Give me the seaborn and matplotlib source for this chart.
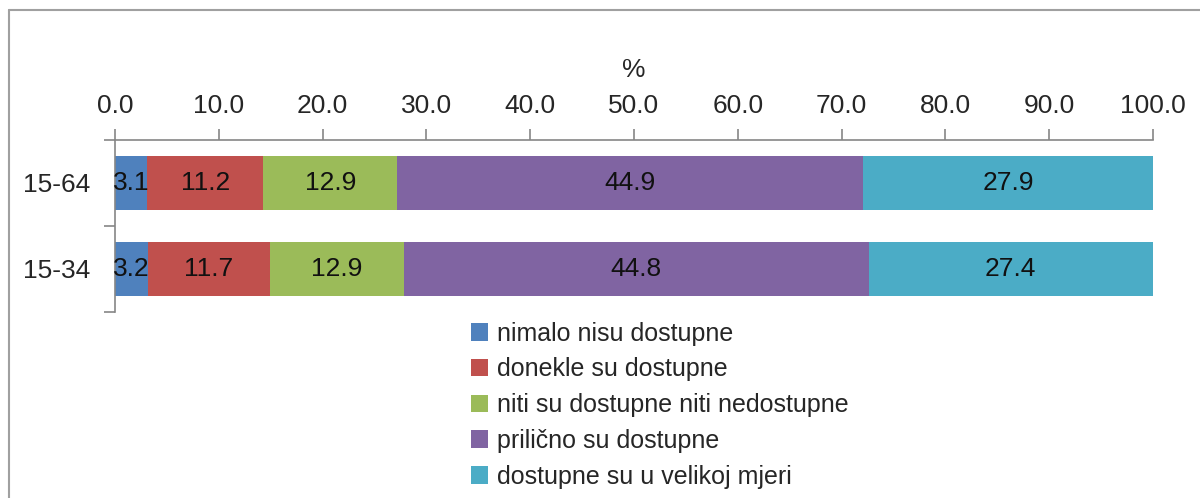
import numpy as np
import pandas as pd
import matplotlib
matplotlib.use('Agg')
import matplotlib.pyplot as plt
import seaborn as sns
from matplotlib.patches import Patch
from matplotlib.lines import Line2D

# Data
groups = ['15-64', '15-34']
categories = ['nimalo nisu dostupne', 'donekle su dostupne',
              'niti su dostupne niti nedostupne', 'prilično su dostupne',
              'dostupne su u velikoj mjeri']
nimalo = [3.1, 3.2]
donekle = [11.2, 11.7]
niti = [12.9, 12.9]
prilicno = [44.9, 44.8]
velikoj = [27.9, 27.4]
colors = ['#4F81BD', '#C0504D', '#9BBB59', '#8064A2', '#4BACC6']
x_ticks = [0, 10, 20, 30, 40, 50, 60, 70, 80, 90, 100]

sns.set_style('white')
plt.rcParams['font.family'] = ['Liberation Sans', 'DejaVu Sans']

df = pd.DataFrame({'group': groups})
for name, vals in zip(categories, [nimalo, donekle, niti, prilicno, velikoj]):
    df[name] = vals
cum = df[categories].cumsum(axis=1)

fig = plt.figure(figsize=(12, 4.98), dpi=100)
ax = fig.add_axes([115 / 1200, 1 - 312 / 498, 1038 / 1200, 172 / 498])

# stacked bars: draw cumulative totals from largest to smallest
for name, col in reversed(list(zip(categories, colors))):
    sns.barplot(x=cum[name], y=df['group'], color=col, width=0.63,
                orient='h', ax=ax, saturation=1, linewidth=0)

# value labels
for i, g in enumerate(groups):
    for name in categories:
        v = df.loc[i, name]
        ax.text(cum.loc[i, name] - v / 2, i, f'{v:.1f}', ha='center', va='center',
                fontsize=19, color='#111111')

ax.set_xlim(0, 100)
ax.set_ylim(1.5, -0.5)
ax.xaxis.tick_top()
ax.xaxis.set_label_position('top')
ax.set_xticks(x_ticks)
ax.set_xticklabels([f'{t:.1f}' for t in x_ticks], fontsize=19)
ax.set_xlabel('%', fontsize=19, labelpad=12)
ax.set_ylabel('')
ax.set_yticks([0, 1])
ax.set_yticklabels(groups, fontsize=19)
ax.set_yticks([-0.5, 0.5, 1.5], minor=True)
ax.tick_params(axis='y', which='major', left=False, length=0, pad=18)
ax.tick_params(axis='y', which='minor', left=True, length=8, color='#868686', width=1.2)
ax.tick_params(axis='x', which='major', length=8, color='#868686', width=1.2, pad=8)
for s in ['right', 'bottom']:
    ax.spines[s].set_visible(False)
for s in ['top', 'left']:
    ax.spines[s].set_color('#868686')
    ax.spines[s].set_linewidth(1.2)

handles = [Patch(facecolor=c, edgecolor='none') for c in colors]
fig.legend(handles, categories, loc='upper left', bbox_to_anchor=(458 / 1200, 1 - 309 / 498),
           frameon=False, fontsize=18, handlelength=0.7, handleheight=0.7,
           handletextpad=0.35, labelspacing=0.47, borderpad=0)

# outer border (top and left visible)
fig.add_artist(Line2D([9 / 1200, 9 / 1200], [0, 1 - 10 / 498], color='#A0A0A0', lw=1.5))
fig.add_artist(Line2D([9 / 1200, 1], [1 - 10 / 498, 1 - 10 / 498], color='#A0A0A0', lw=1.5))

fig.savefig('out.png', dpi=100)
